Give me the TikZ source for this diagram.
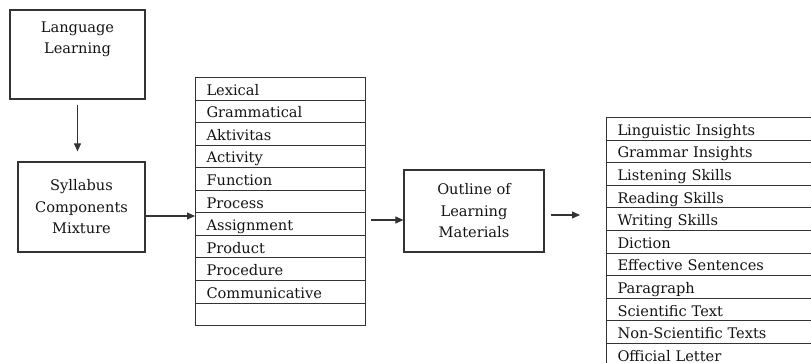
\documentclass[tikz,border=0pt]{standalone}
\usepackage{fontspec}
\setmainfont{DejaVu Serif}
\usetikzlibrary{arrows.meta,positioning}
\definecolor{ln}{HTML}{333333}
\definecolor{tx}{HTML}{141414}
\begin{document}
\begin{tikzpicture}[x=1pt,y=-1pt,
  txt/.style={font=\fontsize{14.6}{21.5}\selectfont,text=tx},
  box/.style={draw=ln,line width=1.2pt,txt,align=center,inner sep=0pt},
  row/.style={draw=ln,line width=1pt,txt,anchor=north west,minimum height=22.6pt,inner sep=0pt,text depth=0pt,align=left},
  arr/.style={draw=ln,line width=1.1pt,-{Triangle[length=8pt,width=7pt]}}]
\useasboundingbox (0,0) rectangle (811,362);
\clip (0,0) rectangle (811,362);
% Language Learning
\node[box,minimum width=135pt,minimum height=89pt] (lang) at (77.5,54.5) {};
\node[txt,align=center] (langt) at (77.5,39.5) {Language\\Learning};
% Syllabus
\node[box,minimum width=127pt,minimum height=90pt] (syl) at (81.5,207) {Syllabus\\Components\\Mixture};
% Left table
\foreach \t [count=\i] in {Lexical,Grammatical,Aktivitas,Activity,Function,Process,Assignment,Product,Procedure,Communicative,{}}{
  \node[row,text width=170pt,minimum width=170pt,text height=13pt] (L\i) at (195,{77+22.55*(\i-1)}) {\hspace*{11pt}\t};
}
% Outline
\node[box,minimum width=140pt,minimum height=82pt] (out) at (474,211) {Outline of\\Learning\\Materials};
% Right table
\foreach \t [count=\i] in {Linguistic Insights,Grammar Insights,Listening Skills,Reading Skills,Writing Skills,Diction,Effective Sentences,Paragraph,Scientific Text,Non-Scientific Texts,Official Letter}{
  \node[row,minimum width=230pt,text width=230pt,text height=13pt] (R\i) at (606,{117+22.6*(\i-1)}) {\hspace*{11pt}\t};
}
% arrows
\draw[arr] ([yshift=-5pt]lang.south) -- ([yshift=10pt]lang.south |- syl.north);
\coordinate (a1) at ([yshift=-9pt]syl.east);
\draw[arr] (a1) -- (a1 -| L1.west);
\coordinate (a2) at ([xshift=-32pt,yshift=-9pt]out.west);
\draw[arr] (a2) -- (a2 -| out.west);
\coordinate (a3) at ([xshift=6pt,yshift=-4pt]out.east);
\coordinate (a4) at ([xshift=-26pt]a3 -| R1.west);
\draw[arr] (a3) -- (a4);
\end{tikzpicture}
\end{document}
